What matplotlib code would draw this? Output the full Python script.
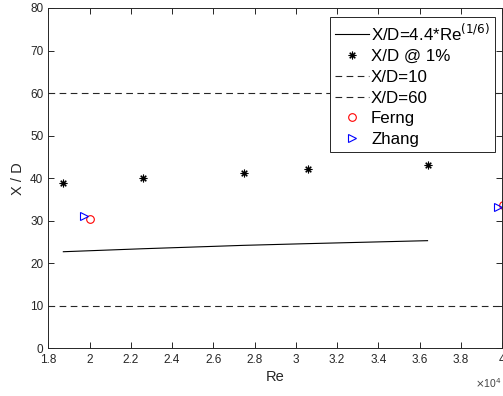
import matplotlib
matplotlib.use("Agg")
import matplotlib.pyplot as plt
from matplotlib.ticker import FuncFormatter, MultipleLocator

plt.rcParams['font.family'] = ['Liberation Sans', 'DejaVu Sans']

# Data
re_pts = [18730, 22570, 27470, 30570, 36390]
xd_1pct = [38.9, 40.1, 41.3, 42.2, 43.1]
xd_corr = [22.7, 23.4, 24.2, 24.6, 25.3]
ferng_re = [20000, 40050]
ferng_xd = [30.3, 33.8]
zhang_re = [19730, 39790]
zhang_xd = [31.1, 33.2]
xd_low = 10
xd_high = 60
xlim = (18000, 40000)
ylim = (0, 80)

gc = '#262626'
fig = plt.figure(figsize=(5.03, 3.96), dpi=100)
ax = fig.add_axes([0.096, 0.1205, 0.902, 0.8593])

ax.plot(re_pts, xd_corr, color='black', lw=0.8, label='X/D=4.4*Re$^{(1/6)}$')
ax.plot(re_pts, xd_1pct, linestyle='none', marker=(8, 2, 0), color='black',
        markersize=5.5, markeredgewidth=0.8, label='X/D @ 1%')
ax.plot(xlim, [xd_low, xd_low], color=gc, lw=0.8, linestyle=(0, (6, 4)), label='X/D=10')
ax.plot(xlim, [xd_high, xd_high], color=gc, lw=0.8, linestyle=(0, (6, 4)), label='X/D=60')
ax.plot(ferng_re, ferng_xd, linestyle='none', marker='o', markerfacecolor='none',
        markeredgecolor='red', markersize=5.5, markeredgewidth=0.8, label='Ferng')
ax.plot(zhang_re, zhang_xd, linestyle='none', marker='>', markerfacecolor='none',
        markeredgecolor='blue', markersize=6, markeredgewidth=0.8, label='Zhang')

ax.set_xlim(*xlim)
ax.set_ylim(*ylim)
ax.xaxis.set_major_locator(MultipleLocator(2000))
ax.yaxis.set_major_locator(MultipleLocator(10))
ax.xaxis.set_major_formatter(FuncFormatter(lambda v, p: '%g' % round(v / 1e4, 2)))
ax.tick_params(direction='in', top=True, right=True, labelsize=8.5, colors=gc,
               length=4, width=0.7)
ax.tick_params(axis='x', pad=4)
for s in ax.spines.values():
    s.set_color(gc)
    s.set_linewidth(0.7)

ax.set_xlabel('Re', fontsize=10.5, color=gc, labelpad=3)
ax.set_ylabel('X / D', fontsize=10.5, color=gc, labelpad=4)
ax.text(1.0, -0.103, '$\\times$10$^{4}$', transform=ax.transAxes, ha='right', va='center',
        fontsize=7.5, color='#444444')

leg = ax.legend(loc='upper right', bbox_to_anchor=(0.985, 0.9735), borderaxespad=0,
                fontsize=12.2, handlelength=2.0, handletextpad=0.15, labelspacing=0.34,
                fancybox=False, framealpha=1, edgecolor=gc, borderpad=0.3)
leg.get_frame().set_linewidth(0.7)

fig.savefig('out.png', dpi=100)
